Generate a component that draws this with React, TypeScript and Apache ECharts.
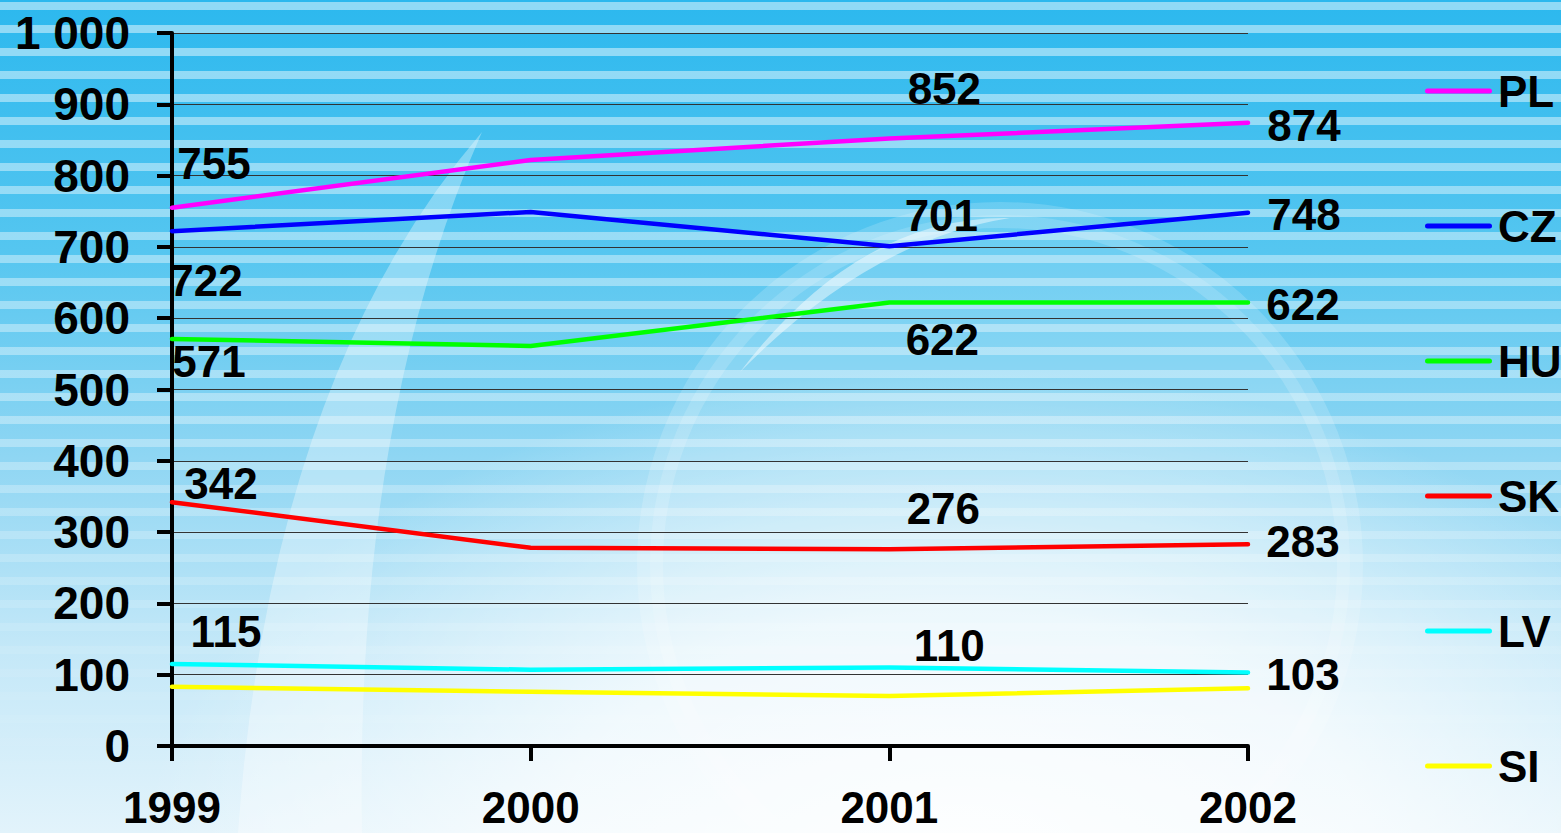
import React, { useEffect, useRef } from "react";
import * as echarts from "echarts";

const years = ["1999", "2000", "2001", "2002"];
const countries = ["PL", "CZ", "HU", "SK", "LV", "SI"];
const PL = [755, 822, 852, 874];
const CZ = [722, 749, 701, 748];
const HU = [571, 561, 622, 622];
const SK = [342, 278, 276, 283];
const LV = [115, 107, 110, 103];
const SI = [83, 76, 70, 81];
const yTicks = [0, 100, 200, 300, 400, 500, 600, 700, 800, 900, 1000];

const seriesValues = [PL, CZ, HU, SK, LV, SI];
const colors = ["#ff00ff", "#0000ff", "#00ff00", "#ff0000", "#00ffff", "#ffff00"];
// label offsets (px) from each point; null = no label
const labelOffsets: (number[] | null)[][] = [
  [[42, -44], null, [55, -50], [56, 3]],
  [[34, 49], null, [52, -31], [56, 2]],
  [[37, 23], null, [53, 37], [55, 2]],
  [[49, -19], null, [54, -41], [55, -3]],
  [[54, -33], null, [60, -22], [55, 2]],
  [null, null, null, null],
];

const FONT = "'Liberation Sans', Arial, Helvetica, sans-serif";

function Background() {
  const stripes: JSX.Element[] = [];
  for (let y = 0; y < 833; y += 23) {
    stripes.push(<rect key={y} x={0} y={y + 2} width={1561} height={8} fill="#ffffff" />);
  }
  return (
    <svg width={1561} height={833} style={{ position: "absolute", left: 0, top: 0 }}>
      <defs>
        <linearGradient id="bg" x1="0" y1="0" x2="0" y2="1">
          <stop offset="0" stopColor="#2cb8ee" />
          <stop offset="0.3" stopColor="#55c6f0" />
          <stop offset="0.55" stopColor="#8fd6f3" />
          <stop offset="0.78" stopColor="#c4e8f8" />
          <stop offset="1" stopColor="#e2f3fb" />
        </linearGradient>
        <linearGradient id="fade" x1="0" y1="0" x2="0" y2="1">
          <stop offset="0" stopColor="#fff" stopOpacity="0.48" />
          <stop offset="0.5" stopColor="#fff" stopOpacity="0.35" />
          <stop offset="0.8" stopColor="#fff" stopOpacity="0.08" />
          <stop offset="1" stopColor="#fff" stopOpacity="0" />
        </linearGradient>
        <mask id="m">
          <rect x={0} y={0} width={1561} height={833} fill="url(#fade)" />
        </mask>
        <radialGradient id="glow" cx="960" cy="860" r="820" gradientUnits="userSpaceOnUse"
          gradientTransform="translate(960 860) scale(1 0.6) translate(-960 -860)">
          <stop offset="0" stopColor="#ffffff" stopOpacity="0.95" />
          <stop offset="0.5" stopColor="#ffffff" stopOpacity="0.7" />
          <stop offset="1" stopColor="#ffffff" stopOpacity="0" />
        </radialGradient>
      </defs>
      <rect x={0} y={0} width={1561} height={833} fill="url(#bg)" />
      <g mask="url(#m)">{stripes}</g>
      <rect x={0} y={0} width={1561} height={833} fill="url(#glow)" />
      <circle cx={1000} cy={565} r={350} fill="#ffffff" fillOpacity={0.14} stroke="#ffffff" strokeOpacity={0.16} strokeWidth={26} />
      <path d="M740 372 Q 860 215 1010 218 Q 870 240 740 372 Z" fill="#ffffff" fillOpacity={0.45} />
      <path d="M482 132 Q 270 380 238 833 L 362 833 Q 355 420 482 132 Z" fill="#ffffff" fillOpacity={0.32} />
    </svg>
  );
}

export default function App() {
  const ref = useRef<HTMLDivElement>(null);
  useEffect(() => {
    if (!ref.current) return;
    const chart = echarts.init(ref.current, undefined, { renderer: "svg" });
    const series = countries.map((name, si) => ({
      name,
      type: "line",
      color: colors[si],
      symbol: "circle",
      symbolSize: 1,
      showSymbol: true,
      lineStyle: { width: 4.5, color: colors[si], cap: "round", join: "round" },
      itemStyle: { color: colors[si] },
      label: {
        position: "inside",
        fontSize: 44,
        fontWeight: "bold",
        fontFamily: FONT,
        color: "#000",
        align: "center",
        verticalAlign: "middle",
      },
      emphasis: { disabled: true },
      z: 3,
      data: seriesValues[si].map((v, i) => {
        const off = labelOffsets[si][i];
        return {
          value: v,
          label: off ? { show: true, offset: off, formatter: String(v) } : { show: false },
        };
      }),
    }));
    chart.setOption({
      animation: false,
      backgroundColor: "transparent",
      grid: { left: 172, right: 313, top: 33, bottom: 87, containLabel: false },
      legend: {
        orient: "vertical",
        left: 1420,
        top: 64,
        itemWidth: 67,
        itemHeight: 44,
        itemGap: 91,
        icon: "path://M2.5,0H64.5A2.5,2.5,0,0,1,64.5,5H2.5A2.5,2.5,0,0,1,2.5,0Z",
        data: countries,
        selectedMode: false,
        textStyle: {
          fontSize: 44,
          fontWeight: "bold",
          fontFamily: FONT,
          color: "#000",
          lineHeight: 44,
          padding: [0, 0, 0, 1],
        },
      },
      xAxis: {
        type: "category",
        data: years,
        boundaryGap: false,
        axisLine: { lineStyle: { color: "#000", width: 4 } },
        axisTick: { show: true, length: 15, lineStyle: { color: "#000", width: 4 } },
        axisLabel: {
          fontSize: 44,
          fontWeight: "bold",
          fontFamily: FONT,
          color: "#000",
          margin: 61,
          lineHeight: 32,
          verticalAlign: "middle",
        },
        splitLine: { show: false },
      },
      yAxis: {
        type: "value",
        min: 0,
        max: 1000,
        interval: 100,
        axisLine: { show: true, lineStyle: { color: "#000", width: 4 } },
        axisTick: { show: true, length: 15, lineStyle: { color: "#000", width: 4 } },
        axisLabel: {
          fontSize: 46,
          fontWeight: "bold",
          fontFamily: FONT,
          color: "#000",
          margin: 42,
          formatter: (v: number) => (yTicks.includes(v) && v >= 1000 ? "1 000" : String(v)),
        },
        splitLine: { show: true, lineStyle: { color: "#333", width: 1 } },
      },
      series,
    });
    return () => chart.dispose();
  }, []);
  return (
    <div style={{ position: "absolute", left: 0, top: 0, width: 1561, height: 833, overflow: "hidden" }}>
      <Background />
      <div ref={ref} style={{ position: "absolute", left: 0, top: 0, width: 1561, height: 833 }} />
    </div>
  );
}
